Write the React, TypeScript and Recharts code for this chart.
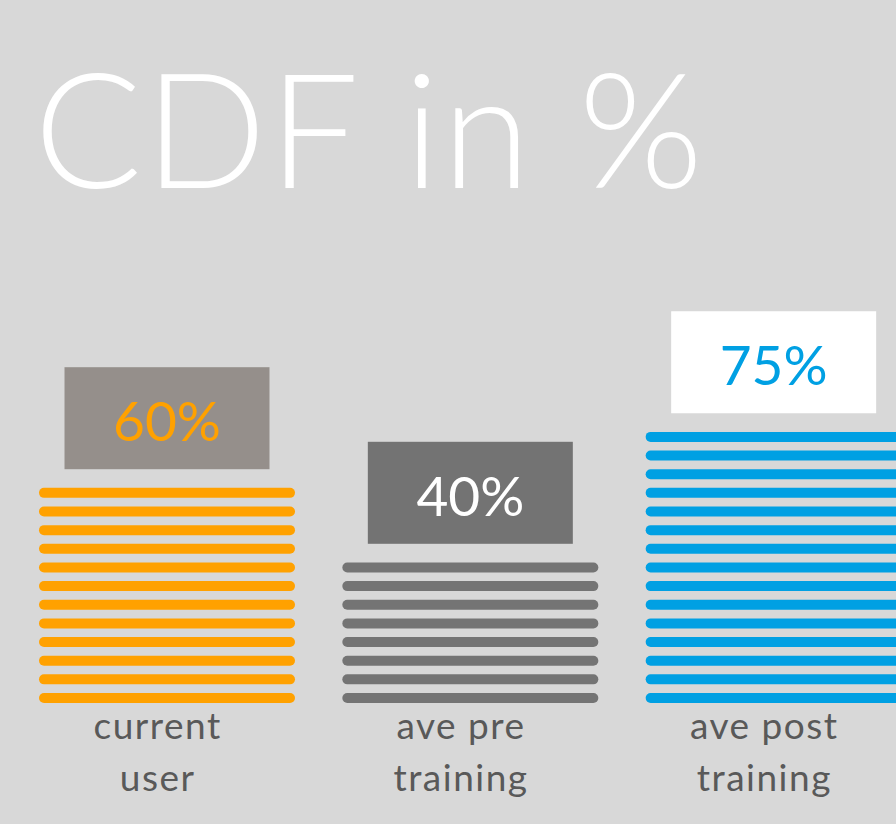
import { BarChart, Bar, XAxis, YAxis, Cell, LabelList } from 'recharts';

const categories = ['current user', 'ave pre training', 'ave post training'];
const tickLines = [
  ['current', 'user'],
  ['ave pre', 'training'],
  ['ave post', 'training'],
];
const values = [60, 40, 75];
const stripeStep = 5; // one stripe = 5%

const stripeColors = ['#ffa100', '#747474', '#00a0e3'];
const boxFills = ['#958f8b', '#737373', '#ffffff'];
const labelColors = ['#ffa100', '#ffffff', '#00a0e3'];

const data = categories.map((name, i) => ({ name, value: values[i] }));

const BG = '#d8d8d8';
const FONT = 'Lato, "Open Sans", sans-serif';

function StripeBar(props: any) {
  const { x, y, width, height, fill, value } = props;
  const v = Array.isArray(value) ? value[1] - value[0] : value;
  const n = Math.round(v / stripeStep);
  if (!n || !height) return null;
  const pitch = height / n;
  const thick = 10;
  const rows = [];
  for (let i = 0; i < n; i++) {
    rows.push(
      <rect
        key={i}
        x={x}
        y={y + (i + 1) * pitch - thick}
        width={width}
        height={thick}
        rx={5}
        ry={5}
        fill={fill}
      />
    );
  }
  return <g>{rows}</g>;
}

function ValueBox(props: any) {
  const vb = props.viewBox ?? props;
  const { x, y, width } = vb;
  const i = props.index ?? 0;
  const cx = x + width / 2;
  const boxW = 205;
  const boxH = 102;
  const bottom = y - 10;
  return (
    <g>
      <rect x={cx - boxW / 2} y={bottom - boxH} width={boxW} height={boxH} fill={boxFills[i]} />
      <text
        x={cx}
        y={bottom - 28}
        textAnchor="middle"
        fontFamily={FONT}
        fontSize={55}
        fill={labelColors[i]}
      >
        {props.value}%
      </text>
    </g>
  );
}

function CategoryTick(props: any) {
  const { x, y, index } = props;
  const lines = tickLines[index] ?? [props.payload?.value];
  return (
    <g>
      {lines.map((t: string, k: number) => (
        <text
          key={k}
          x={x - 9}
          y={y + 36 + k * 52}
          textAnchor="middle"
          fontFamily={FONT}
          fontSize={37}
          letterSpacing={1.5}
          fill="#595959"
        >
          {t}
        </text>
      ))}
    </g>
  );
}

export default function App() {
  return (
    <div
      style={{
        position: 'absolute',
        left: 0,
        top: 0,
        width: 896,
        height: 824,
        overflow: 'hidden',
        background: BG,
      }}
    >
      <svg width={896} height={260} style={{ position: 'absolute', left: 0, top: 0 }}>
        <text
          x={34}
          y={188}
          fontFamily={FONT}
          fontWeight={300}
          fontSize={160}
          letterSpacing={2.5}
          fill="#ffffff"
        >
          CDF in %
        </text>
      </svg>
      <div style={{ position: 'absolute', left: 0, top: 0 }}>
        <BarChart
          width={930}
          height={824}
          data={data}
          margin={{ top: 330, right: 5, bottom: 11, left: 15 }}
          barCategoryGap={0}
        >
          <XAxis
            dataKey="name"
            axisLine={false}
            tickLine={false}
            tickSize={0}
            tickMargin={0}
            interval={0}
            height={110}
            tick={<CategoryTick />}
          />
          <YAxis hide domain={[0, 100]} />
          <Bar dataKey="value" barSize={256} shape={<StripeBar />} isAnimationActive={false}>
            {data.map((d, i) => (
              <Cell key={d.name} fill={stripeColors[i]} />
            ))}
            <LabelList dataKey="value" content={<ValueBox />} />
          </Bar>
        </BarChart>
      </div>
    </div>
  );
}
